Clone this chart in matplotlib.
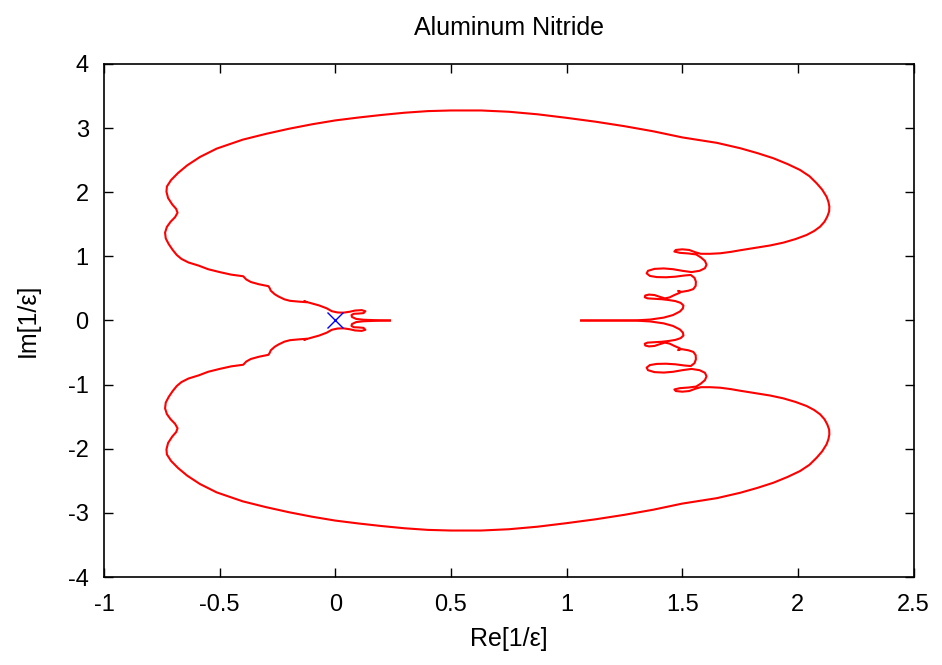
import matplotlib
matplotlib.use('Agg')
import matplotlib.pyplot as plt

plt.rcParams['font.family'] = ['Liberation Sans', 'DejaVu Sans']
plt.rcParams['axes.unicode_minus'] = False

# upper branch of the 1/eps curve, lower branch is its mirror
re_up = [1.063, 1.2, 1.3, 1.362, 1.42, 1.46, 1.49, 1.503, 1.505, 1.493, 1.47,
         1.44, 1.41, 1.376, 1.35, 1.338, 1.34, 1.356, 1.38, 1.402, 1.425, 1.445,
         1.465, 1.49, 1.482, 1.497, 1.527, 1.548, 1.558, 1.559, 1.553, 1.537,
         1.51, 1.47, 1.43, 1.39, 1.36, 1.346, 1.352, 1.38, 1.42, 1.46, 1.50,
         1.54, 1.575, 1.598, 1.605, 1.598, 1.58, 1.56, 1.527, 1.49, 1.466, 1.472,
         1.5, 1.53, 1.556, 1.58, 1.62, 1.664, 1.71, 1.75, 1.822, 1.88, 1.937,
         1.99, 2.038, 2.07, 2.096, 2.115, 2.127, 2.135, 2.136, 2.132, 2.124,
         2.105, 2.081, 2.05, 2.009, 1.955, 1.894, 1.825, 1.751, 1.65, 1.5,
         1.375, 1.25, 1.125, 1.0, 0.875, 0.75, 0.63, 0.5, 0.4, 0.3, 0.2, 0.1,
         0.0, -0.1, -0.2, -0.3, -0.4, -0.513, -0.585, -0.64, -0.68, -0.71,
         -0.728, -0.73, -0.723, -0.705, -0.688, -0.682, -0.693, -0.712, -0.728,
         -0.736, -0.733, -0.72, -0.703, -0.685, -0.665, -0.635, -0.59, -0.55,
         -0.5, -0.45, -0.398, -0.385, -0.365, -0.33, -0.289, -0.283, -0.279,
         -0.262, -0.246, -0.22, -0.196, -0.16, -0.124, -0.135, -0.1, -0.07,
         -0.037, -0.015, 0.01, 0.035, 0.063, 0.085, 0.114, 0.13, 0.122, 0.1,
         0.08, 0.07, 0.072, 0.09, 0.121, 0.172, 0.236]
im_up = [0.0, 0.0, 0.002, 0.015, 0.045, 0.085, 0.14, 0.19, 0.235, 0.275, 0.303,
         0.32, 0.332, 0.34, 0.345, 0.362, 0.39, 0.404, 0.397, 0.37, 0.345, 0.36,
         0.395, 0.434, 0.462, 0.446, 0.465, 0.49, 0.54, 0.605, 0.665, 0.71,
         0.702, 0.683, 0.674, 0.677, 0.695, 0.735, 0.775, 0.805, 0.812, 0.80, 0.775,
         0.755, 0.775, 0.815, 0.87, 0.93, 0.985, 1.03, 1.045, 1.055, 1.075, 1.1,
         1.11, 1.1, 1.065, 1.04, 1.04, 1.048, 1.07, 1.095, 1.136, 1.17, 1.214,
         1.27, 1.334, 1.395, 1.463, 1.54, 1.62, 1.70, 1.775, 1.85, 1.93,
         2.04, 2.14, 2.25, 2.348, 2.44, 2.53, 2.61, 2.686, 2.77, 2.855,
         2.95, 3.03, 3.1, 3.16, 3.215, 3.255, 3.275, 3.275, 3.265, 3.24, 3.205, 3.165,
         3.12, 3.06, 2.99, 2.91, 2.82, 2.68, 2.55, 2.42, 2.30, 2.19,
         2.09, 2.01, 1.91, 1.81, 1.74, 1.68, 1.61, 1.54, 1.46,
         1.37, 1.28, 1.19, 1.10, 1.02, 0.96, 0.905, 0.855, 0.80,
         0.755, 0.715, 0.69, 0.64, 0.6, 0.565, 0.535, 0.50, 0.465,
         0.41, 0.375, 0.33, 0.307, 0.295, 0.285, 0.30, 0.265, 0.235,
         0.19, 0.145, 0.125, 0.122, 0.137, 0.155, 0.162, 0.145, 0.115, 0.108,
         0.105, 0.085, 0.055, 0.025, 0.012, 0.005, 0.0]
re_low = re_up
im_low = [-v for v in im_up]

marker_re = [0.0]
marker_im = [0.0]

x_ticks = [-1, -0.5, 0, 0.5, 1, 1.5, 2, 2.5]
x_labels = ['-1', '-0.5', '0', '0.5', '1', '1.5', '2', '2.5']
y_ticks = [-4, -3, -2, -1, 0, 1, 2, 3, 4]
y_labels = ['-4', '-3', '-2', '-1', '0', '1', '2', '3', '4']

fig = plt.figure(figsize=(9.42, 6.65), dpi=100)
ax = fig.add_axes([0.1104, 0.1323, 0.8594, 0.7715])

ax.plot(re_up, im_up, color='#ff0000', lw=1.5, solid_joinstyle='round')
ax.plot(re_low, im_low, color='#ff0000', lw=1.5, solid_joinstyle='round')
ax.plot(marker_re, marker_im, linestyle='none', marker='x', color='#0000ff',
        markersize=12, markeredgewidth=1.0)

ax.set_xlim(-1, 2.5)
ax.set_ylim(-4, 4)
ax.set_xticks(x_ticks)
ax.set_xticklabels(x_labels)
ax.set_yticks(y_ticks)
ax.set_yticklabels(y_labels)
ax.tick_params(direction='in', top=True, right=True, length=6.5, width=1,
               labelsize=17)
ax.tick_params(axis='x', pad=12)
ax.tick_params(axis='y', pad=11)
for s in ax.spines.values():
    s.set_linewidth(1.2)

ax.set_title('Aluminum Nitride', fontsize=18, pad=21)
ax.set_xlabel('Re[1/ε]', fontsize=18, labelpad=8)
ax.set_ylabel('Im[1/ε]', fontsize=18, labelpad=20)

fig.savefig('out.png', dpi=100)
